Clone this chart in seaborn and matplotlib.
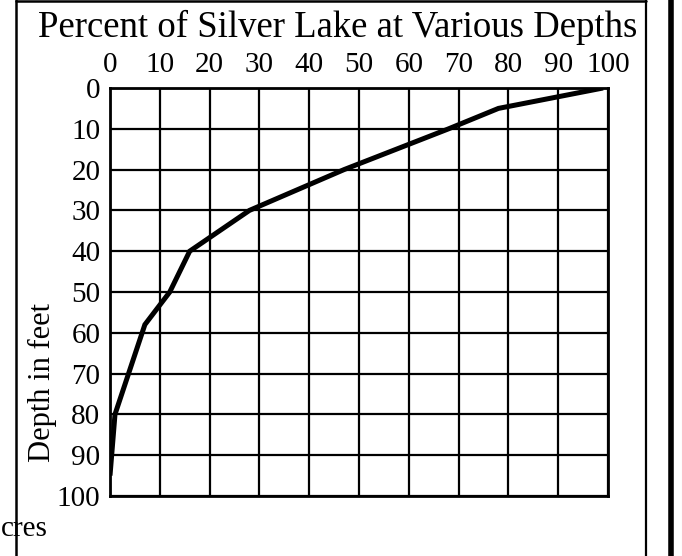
import matplotlib
matplotlib.use("Agg")
import matplotlib.pyplot as plt
from matplotlib.lines import Line2D
import seaborn as sns
import pandas as pd

# Data
percent = [99, 78, 68, 47, 28, 16, 12, 7, 1, 0]
depth = [0, 5, 10, 20, 30, 40, 50, 58, 80, 95]
x_ticks = [0, 10, 20, 30, 40, 50, 60, 70, 80, 90, 100]
y_ticks = [0, 10, 20, 30, 40, 50, 60, 70, 80, 90, 100]
title = "Percent of Silver Lake at Various Depths"
y_label = "Depth in feet"
stray_text = "cres"

sns.set_theme(style="white")
plt.rcParams["font.family"] = ["Liberation Serif", "DejaVu Serif"]

W, H = 682, 556
fig = plt.figure(figsize=(W / 100, H / 100), dpi=100)
ax = fig.add_axes([110 / W, 1 - 496 / H, 498 / W, 408 / H])

df = pd.DataFrame({"percent": percent, "depth": depth})
sns.lineplot(data=df, x="percent", y="depth", sort=False, color="black",
             linewidth=3.6, ax=ax, solid_capstyle="butt", solid_joinstyle="miter")

ax.set_xlim(0, 100)
ax.set_ylim(100, 0)
ax.set_xticks(x_ticks)
ax.set_yticks(y_ticks)
ax.set_xticklabels([str(v) for v in x_ticks])
ax.set_yticklabels([str(v) for v in y_ticks])
ax.xaxis.tick_top()
ax.tick_params(axis="both", length=0, labelsize=21, colors="black")
ax.tick_params(axis="x", pad=7)
ax.tick_params(axis="y", pad=7)
ax.grid(True, color="black", linewidth=1.6)
for s in ax.spines.values():
    s.set_visible(True)
    s.set_color("black")
    s.set_linewidth(2.0)
ax.set_xlabel("")
ax.set_ylabel("")

fig.text(42 / W, 1 - 383 / H, y_label, rotation=90, ha="center", va="center",
         fontsize=22, color="black")
fig.text(338 / W, 1 - 27 / H, title, ha="center", va="center", fontsize=26.5,
         color="black")
fig.text(1 / W, 1 - 536 / H, stray_text, ha="left", va="baseline",
         fontsize=21, color="black")

# frame lines
fig.add_artist(Line2D([16 / W, 16 / W], [0, 1], color="black", linewidth=1.8))
fig.add_artist(Line2D([16 / W, 645.5 / W], [1 - 1 / H, 1 - 1 / H], color="black", linewidth=1.8))
fig.add_artist(Line2D([645.5 / W, 645.5 / W], [0, 1], color="black", linewidth=1.6))
fig.add_artist(Line2D([671 / W, 671 / W], [0, 1], color="black", linewidth=4.0))
fig.add_artist(Line2D([681.5 / W, 681.5 / W], [0, 1], color="#dddddd", linewidth=0.8))

fig.savefig("out.png", dpi=100)
